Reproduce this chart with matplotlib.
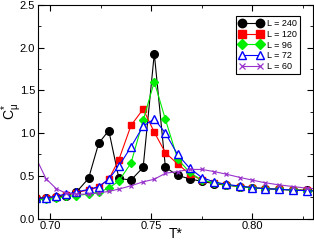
import matplotlib as mpl
import matplotlib.pyplot as plt
from matplotlib.ticker import MultipleLocator

# reduced temperature grid shared by all system sizes
T = [0.693, 0.698, 0.703, 0.708, 0.713, 0.719, 0.724, 0.729, 0.734, 0.740,
     0.746, 0.7515, 0.757, 0.763, 0.769, 0.775, 0.781, 0.787, 0.794, 0.800,
     0.806, 0.813, 0.820, 0.827, 0.834]

c_240 = [0.235, 0.24, 0.25, 0.27, 0.31, 0.47, 0.88, 1.03, 0.47, 0.45,
         0.60, 1.93, 0.60, 0.505, 0.465, 0.435, 0.41, 0.39, 0.375, 0.36,
         0.35, 0.343, 0.335, 0.33, 0.325]
c_120 = [0.235, 0.24, 0.255, 0.28, 0.305, 0.335, 0.37, 0.46, 0.69, 1.09,
         1.28, 1.01, 0.77, 0.64, 0.52, 0.45, 0.415, 0.395, 0.375, 0.36,
         0.35, 0.343, 0.335, 0.33, 0.325]
c_96 = [0.22, 0.225, 0.236, 0.26, 0.27, 0.287, 0.31, 0.355, 0.44, 0.65,
        1.15, 1.60, 1.16, 0.70, 0.54, 0.45, 0.42, 0.395, 0.375, 0.36,
        0.35, 0.342, 0.335, 0.328, 0.322]
c_72 = [0.235, 0.243, 0.263, 0.287, 0.31, 0.342, 0.372, 0.462, 0.614, 0.839,
        1.082, 1.165, 1.00, 0.75, 0.59, 0.48, 0.43, 0.40, 0.38, 0.362,
        0.35, 0.343, 0.333, 0.326, 0.32]
c_60 = [0.71, 0.465, 0.35, 0.295, 0.285, 0.285, 0.30, 0.318, 0.345, 0.384,
        0.43, 0.46, 0.53, 0.55, 0.575, 0.575, 0.55, 0.52, 0.48, 0.45,
        0.42, 0.395, 0.375, 0.355, 0.345]

labels = ['L = 240', 'L = 120', 'L = 96', 'L = 72', 'L = 60']

STYLE = {
    'font.family': ['Liberation Sans', 'DejaVu Sans'],
    'mathtext.fontset': 'custom',
    'mathtext.rm': 'Liberation Sans',
    'mathtext.it': 'Liberation Sans',
    'xtick.direction': 'in',
    'ytick.direction': 'in',
    'xtick.top': True,
    'ytick.right': True,
    'xtick.major.size': 4,
    'ytick.major.size': 4,
    'xtick.minor.size': 2.5,
    'ytick.minor.size': 2.5,
    'axes.linewidth': 0.8,
}


@mpl.rc_context(STYLE)
def plot_specific_heat():
    fig = plt.figure(figsize=(3.14, 2.41), dpi=100)
    ax = fig.add_axes([0.121, 0.093, 0.876, 0.887])

    lw = 0.8
    ax.plot(T, c_240, '-o', color='black', lw=lw, ms=5.5, label=labels[0])
    ax.plot(T, c_120, '-s', color='#ff0000', lw=lw, ms=5, label=labels[1])
    ax.plot(T, c_96, '-D', color='#00ee00', lw=lw, ms=4.3, label=labels[2])
    ax.plot(T, c_72, '-^', color='#0000ff', lw=lw, ms=5.5, mfc='white',
            mew=1.0, label=labels[3])
    ax.plot(T, c_60, '-x', color='#9933cc', lw=lw, ms=3.5, mew=0.9,
            label=labels[4])

    ax.set_xlim(0.694, 0.830)
    ax.set_ylim(0, 2.5)
    ax.xaxis.set_major_locator(MultipleLocator(0.05))
    ax.xaxis.set_minor_locator(MultipleLocator(0.025))
    ax.yaxis.set_major_locator(MultipleLocator(0.5))
    ax.yaxis.set_minor_locator(MultipleLocator(0.25))
    ax.xaxis.set_major_formatter(mpl.ticker.FormatStrFormatter('%.2f'))
    ax.yaxis.set_major_formatter(mpl.ticker.FormatStrFormatter('%.1f'))
    ax.tick_params(labelsize=8, pad=2)

    ax.set_xlabel('T*', fontsize=10, labelpad=-3)
    ax.set_ylabel(r'$\mathrm{C}^{*}_{\mu}$', fontsize=10)
    ax.yaxis.set_label_coords(-0.05, 0.5)

    leg = ax.legend(loc='upper right', bbox_to_anchor=(0.968, 0.97),
                    numpoints=2, fontsize=6.5, handlelength=2.6,
                    handletextpad=0.4, borderpad=0.35, labelspacing=0.2,
                    markerscale=1.1, fancybox=False, framealpha=1,
                    edgecolor='black')
    leg.get_frame().set_linewidth(0.8)

    fig.savefig('out.png', dpi=100)


plot_specific_heat()
